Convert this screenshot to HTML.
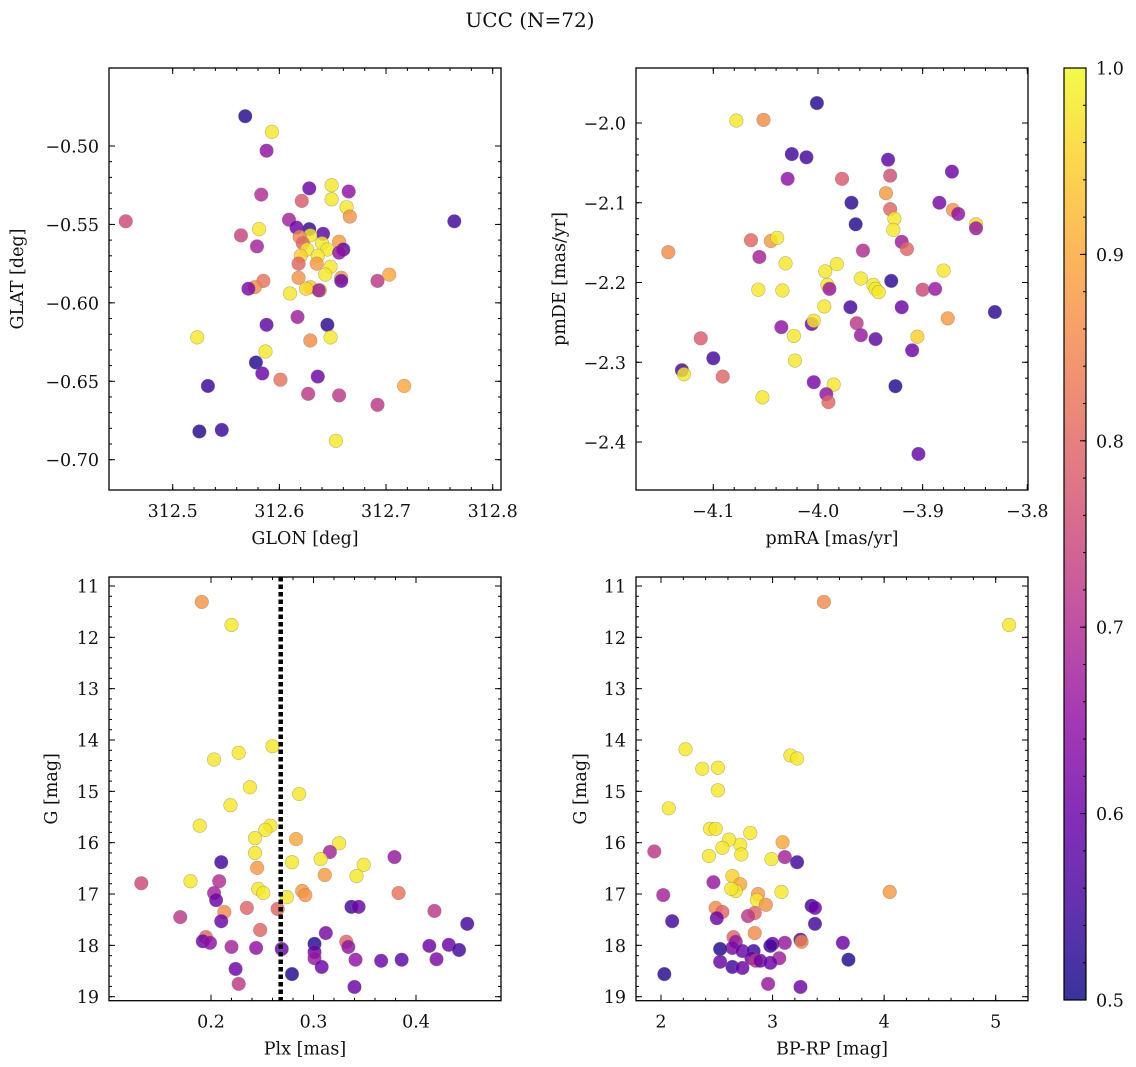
<!DOCTYPE html>
<html><head><meta charset="utf-8"><title>UCC (N=72)</title>
<style>
html,body{margin:0;padding:0;background:#fff;}
svg{display:block;font-family:"DejaVu Serif","Liberation Serif",serif;}
</style></head>
<body>
<svg id="fig" width="1136" height="1067" viewBox="0 0 1136 1067">
<text x="530" y="27" text-anchor="middle" font-size="20" fill="#111">UCC (N=72)</text>
</svg>
<script>
// ---- Panel 1: GLON vs GLAT ----
const p1X=[312.456,312.568,312.593,312.588,312.583,312.628,312.621,312.649,312.649,312.665,312.663,312.666,312.764,312.564,312.581,312.579,312.609,312.616,312.628,312.641,312.629,312.619,312.622,312.640,312.656,312.660,312.626,312.645,312.656,312.620,312.636,312.618,312.635,312.648,312.643,312.658,312.658,312.618,312.585,312.577,312.571,312.610,312.629,312.638,312.637,312.625,312.692,312.703,312.588,312.645,312.617,312.523,312.587,312.629,312.648,312.578,312.584,312.601,312.636,312.533,312.717,312.627,312.656,312.692,312.525,312.546,312.653];
const p1Y=[-0.548,-0.481,-0.491,-0.503,-0.531,-0.527,-0.535,-0.525,-0.534,-0.529,-0.539,-0.545,-0.548,-0.557,-0.553,-0.564,-0.547,-0.552,-0.553,-0.556,-0.557,-0.558,-0.562,-0.562,-0.561,-0.566,-0.566,-0.566,-0.568,-0.570,-0.570,-0.575,-0.575,-0.577,-0.582,-0.584,-0.586,-0.584,-0.586,-0.590,-0.591,-0.594,-0.590,-0.592,-0.592,-0.591,-0.586,-0.582,-0.614,-0.614,-0.609,-0.622,-0.631,-0.624,-0.622,-0.638,-0.645,-0.649,-0.647,-0.653,-0.653,-0.658,-0.659,-0.665,-0.682,-0.681,-0.688];
const p1C=[0.75,0.52,0.98,0.65,0.70,0.60,0.78,0.98,0.98,0.65,0.98,0.87,0.55,0.74,0.98,0.68,0.68,0.60,0.54,0.58,0.98,0.85,0.80,0.98,0.88,0.58,0.98,0.98,0.65,0.95,0.98,0.80,0.88,0.98,0.98,0.87,0.60,0.87,0.82,0.86,0.62,0.98,0.94,0.98,0.66,0.96,0.72,0.90,0.58,0.53,0.67,0.98,0.98,0.86,0.98,0.52,0.60,0.82,0.60,0.54,0.90,0.72,0.72,0.72,0.52,0.54,0.98];
const p1XTicks=[312.5,312.6,312.7,312.8];
const p1XTickLabels=["312.5","312.6","312.7","312.8"];
const p1YTicks=[-0.50,-0.55,-0.60,-0.65,-0.70];
const p1YTickLabels=["\u22120.50","\u22120.55","\u22120.60","\u22120.65","\u22120.70"];
// ---- Panel 2: pmRA vs pmDE ----
const p2X=[-4.001,-4.052,-4.078,-4.025,-4.011,-4.029,-3.977,-3.933,-3.931,-3.872,-3.968,-3.935,-3.884,-3.931,-3.871,-3.866,-3.927,-3.928,-3.964,-3.849,-3.849,-3.920,-3.915,-4.143,-4.064,-4.045,-4.039,-4.056,-4.031,-3.982,-3.957,-3.993,-3.880,-3.959,-3.947,-3.945,-3.942,-3.930,-3.991,-3.989,-4.057,-4.034,-3.900,-3.888,-3.831,-3.969,-3.994,-3.920,-3.876,-4.006,-4.004,-4.035,-3.963,-3.959,-3.945,-4.023,-4.112,-3.905,-3.910,-4.100,-4.022,-4.130,-4.128,-4.091,-4.004,-3.926,-3.985,-3.992,-3.990,-4.053,-3.904];
const p2Y=[-1.975,-1.996,-1.997,-2.039,-2.043,-2.070,-2.070,-2.046,-2.066,-2.061,-2.100,-2.088,-2.100,-2.108,-2.109,-2.114,-2.120,-2.134,-2.127,-2.127,-2.132,-2.149,-2.158,-2.162,-2.147,-2.148,-2.144,-2.168,-2.176,-2.177,-2.160,-2.186,-2.185,-2.195,-2.203,-2.208,-2.212,-2.198,-2.203,-2.208,-2.209,-2.210,-2.209,-2.208,-2.237,-2.231,-2.230,-2.231,-2.245,-2.252,-2.248,-2.256,-2.251,-2.266,-2.271,-2.267,-2.270,-2.268,-2.285,-2.295,-2.298,-2.310,-2.315,-2.318,-2.325,-2.330,-2.328,-2.340,-2.350,-2.344,-2.415];
const p2C=[0.52,0.86,0.98,0.55,0.55,0.65,0.78,0.58,0.76,0.60,0.53,0.88,0.62,0.80,0.87,0.65,0.98,0.98,0.52,0.96,0.66,0.67,0.80,0.86,0.80,0.88,0.98,0.68,0.98,0.98,0.70,0.98,0.98,0.98,0.98,0.98,0.98,0.53,0.98,0.66,0.98,0.98,0.75,0.66,0.53,0.55,0.98,0.60,0.88,0.60,0.98,0.65,0.72,0.66,0.58,0.98,0.78,0.95,0.60,0.55,0.98,0.56,0.98,0.80,0.62,0.52,0.98,0.65,0.80,0.98,0.60];
const p2XTicks=[-4.1,-4.0,-3.9,-3.8];
const p2XTickLabels=["\u22124.1","\u22124.0","\u22123.9","\u22123.8"];
const p2YTicks=[-2.0,-2.1,-2.2,-2.3,-2.4];
const p2YTickLabels=["\u22122.0","\u22122.1","\u22122.2","\u22122.3","\u22122.4"];
// ---- Panel 3: Plx vs G ----
const p3X=[0.191,0.220,0.203,0.227,0.260,0.238,0.286,0.219,0.189,0.258,0.253,0.243,0.283,0.325,0.243,0.316,0.379,0.210,0.307,0.279,0.349,0.245,0.311,0.342,0.208,0.180,0.132,0.246,0.251,0.289,0.292,0.274,0.203,0.205,0.383,0.265,0.235,0.213,0.337,0.344,0.418,0.170,0.210,0.450,0.248,0.312,0.195,0.192,0.199,0.332,0.301,0.220,0.244,0.269,0.334,0.413,0.432,0.442,0.301,0.301,0.420,0.341,0.366,0.386,0.308,0.224,0.279,0.227,0.340];
const p3Y=[11.31,11.76,14.38,14.25,14.12,14.92,15.05,15.27,15.67,15.67,15.75,15.91,15.93,16.01,16.20,16.18,16.28,16.38,16.32,16.38,16.43,16.49,16.63,16.65,16.75,16.75,16.79,16.90,16.98,16.94,17.02,17.06,16.98,17.12,16.98,17.29,17.27,17.35,17.25,17.25,17.33,17.45,17.53,17.58,17.70,17.76,17.84,17.92,17.95,17.93,17.97,18.03,18.05,18.07,18.03,18.01,17.99,18.09,18.13,18.25,18.27,18.28,18.30,18.28,18.42,18.46,18.56,18.75,18.81];
const p3C=[0.87,0.98,0.98,0.98,0.98,0.98,0.98,0.98,0.98,0.98,0.98,0.98,0.90,0.98,0.98,0.68,0.66,0.55,0.98,0.98,0.98,0.88,0.88,0.98,0.70,0.98,0.75,0.98,0.98,0.88,0.87,0.98,0.68,0.60,0.82,0.80,0.80,0.86,0.55,0.60,0.72,0.72,0.60,0.55,0.80,0.62,0.80,0.60,0.65,0.80,0.52,0.68,0.65,0.60,0.65,0.60,0.60,0.55,0.60,0.66,0.62,0.65,0.60,0.58,0.60,0.60,0.52,0.72,0.60];
const p3XTicks=[0.2,0.3,0.4];
const p3XTickLabels=["0.2","0.3","0.4"];
const gTicks=[11,12,13,14,15,16,17,18,19];
const gTickLabels=["11","12","13","14","15","16","17","18","19"];
const plxLine=[0.268];
// ---- Panel 4: BP-RP vs G ----
const p4X=[3.46,5.12,2.22,3.16,3.22,2.51,2.37,2.51,2.07,2.44,2.49,2.71,2.61,2.80,3.09,2.55,2.72,3.11,3.22,1.94,2.43,2.99,2.47,2.64,2.71,2.67,2.63,2.02,2.87,3.08,4.05,2.86,2.49,2.55,2.50,2.84,3.35,3.38,2.94,2.10,2.78,3.38,2.84,2.65,3.25,2.67,3.11,3.26,3.00,2.98,3.63,2.64,2.53,2.73,2.83,3.06,2.81,2.85,2.89,2.98,3.68,2.64,2.73,2.53,2.03,2.96,3.25];
const p4Y=[11.31,11.76,14.18,14.30,14.36,14.54,14.56,14.98,15.33,15.73,15.73,16.04,15.94,15.81,15.99,16.10,16.23,16.28,16.38,16.17,16.26,16.32,16.77,16.65,16.81,16.94,16.90,17.02,17.00,16.96,16.96,17.12,17.27,17.35,17.47,17.37,17.23,17.27,17.21,17.53,17.43,17.58,17.76,17.84,17.89,17.93,17.95,17.93,17.97,18.01,17.95,18.05,18.07,18.11,18.11,18.25,18.25,18.30,18.30,18.34,18.28,18.42,18.44,18.32,18.56,18.75,18.81];
const p4C=[0.86,0.98,0.98,0.98,0.98,0.98,0.98,0.98,0.98,0.98,0.98,0.98,0.98,0.98,0.90,0.98,0.98,0.68,0.55,0.72,0.98,0.98,0.66,0.95,0.90,0.98,0.98,0.68,0.88,0.98,0.88,0.98,0.86,0.80,0.60,0.80,0.55,0.60,0.87,0.55,0.72,0.55,0.86,0.80,0.55,0.66,0.66,0.85,0.60,0.55,0.60,0.62,0.52,0.60,0.55,0.67,0.60,0.72,0.60,0.60,0.52,0.55,0.60,0.60,0.52,0.66,0.60];
const p4XTicks=[2,3,4,5];
const p4XTickLabels=["2","3","4","5"];
// ---- Colorbar ----
const cbTicks=[0.5,0.6,0.7,0.8,0.9,1.0];
const cbTickLabels=["0.5","0.6","0.7","0.8","0.9","1.0"];

const NS="http://www.w3.org/2000/svg";
const svg=document.getElementById('fig');
const TFS=17.5, LFS=17.5;
function mk(tag,attrs,parent){const e=document.createElementNS(NS,tag);for(const k in attrs)e.setAttribute(k,attrs[k]);(parent||svg).appendChild(e);return e;}
const plasma=[[13,8,135],[65,4,157],[106,0,168],[143,13,164],[177,42,144],[204,71,120],[225,100,98],[242,132,75],[252,166,54],[252,206,37],[240,249,33]];
function cmap(c){let t=(c-0.5)/0.5;t=Math.max(0,Math.min(1,t));const f=t*10;const i=Math.min(9,Math.floor(f));const r=f-i;const a=plasma[i],b=plasma[i+1];return 'rgb('+a.map((v,k)=>Math.round(v+(b[k]-v)*r)).join(',')+')';}

function lin(d0,d1,r0,r1){return v=>r0+(v-d0)*(r1-r0)/(d1-d0);}

function panel(o){
  const g=mk('g',{});
  
  
  const {L,R,T,B}=o;
  const sx=lin(o.xd[0],o.xd[1],o.xr[0],o.xr[1]);
  const sy=lin(o.yd[0],o.yd[1],o.yr[0],o.yr[1]);
  const clip='clip-'+o.name;
  const cp=mk('clipPath',{id:clip},g);mk('rect',{x:L,y:T,width:R-L,height:B-T},cp);
  const pts=mk('g',{'clip-path':'url(#'+clip+')'},g);
  
  
  for(let i=0;i<o.x.length;i++){
    const c=mk('circle',{cx:sx(o.x[i]),cy:sy(o.y[i]),r:6.8,fill:cmap(o.c[i]),'fill-opacity':0.82,stroke:'#777','stroke-opacity':0.5,'stroke-width':0.6},pts);
    
    
  }
  if(o.vline){
    for(const v of o.vline){
      const ln=mk('line',{x1:sx(v),x2:sx(v),y1:T,y2:B,stroke:'#000','stroke-width':4.5,'stroke-dasharray':'4.5,3'},pts);
      
      
    }
  }
  const frame=mk('rect',{x:L,y:T,width:R-L,height:B-T,fill:'none',stroke:'#000','stroke-width':1.3},g);
  
  
  const tk=mk('g',{stroke:'#000','stroke-width':1},g);
  const xmn=Math.min(o.xd[0],o.xd[1]),xmx=Math.max(o.xd[0],o.xd[1]);
  for(let k=Math.ceil(xmn/o.xminor-1e-6);k*o.xminor<=xmx+1e-9;k++){const v=k*o.xminor,px=sx(v);if(px<L-0.5||px>R+0.5)continue;
    mk('line',{x1:px,x2:px,y1:B,y2:B-3},tk);mk('line',{x1:px,x2:px,y1:T,y2:T+3},tk);}
  const ymn=Math.min(o.yd[0],o.yd[1]),ymx=Math.max(o.yd[0],o.yd[1]);
  for(let k=Math.ceil(ymn/o.yminor-1e-6);k*o.yminor<=ymx+1e-9;k++){const v=k*o.yminor,py=sy(v);if(py<T-0.5||py>B+0.5)continue;
    mk('line',{x1:L,x2:L+3,y1:py,y2:py},tk);mk('line',{x1:R,x2:R-3,y1:py,y2:py},tk);}
  o.xt.forEach((v,i)=>{const px=sx(v);
    mk('line',{x1:px,x2:px,y1:B,y2:B-6},tk);mk('line',{x1:px,x2:px,y1:T,y2:T+6},tk);
    const t=mk('text',{x:px,y:B+27,'text-anchor':'middle','font-size':TFS,fill:'#111'},g);t.textContent=o.xtl[i];
    
    });
  o.yt.forEach((v,i)=>{const py=sy(v);
    mk('line',{x1:L,x2:L+6,y1:py,y2:py},tk);mk('line',{x1:R,x2:R-6,y1:py,y2:py},tk);
    const t=mk('text',{x:L-10,y:py+6.5,'text-anchor':'end','font-size':TFS,fill:'#111'},g);t.textContent=o.ytl[i];
    
    });
  const xl=mk('text',{x:(L+R)/2,y:B+54,'text-anchor':'middle','font-size':LFS,fill:'#111'},g);xl.textContent=o.xlabel;
  
  
  const yl=mk('text',{x:0,y:0,'text-anchor':'middle','font-size':LFS,fill:'#111',transform:'translate('+o.ylx+','+(T+B)/2+') rotate(-90)'},g);yl.textContent=o.ylabel;
  
  
}

panel({name:'glon-glat-panel',L:109,R:501,T:68,B:490,x:p1X,y:p1Y,c:p1C,
  xd:[312.5,312.8],xr:[172.7,492.7],yd:[-0.50,-0.70],yr:[146,459.7],
  xt:p1XTicks,xtl:p1XTickLabels,yt:p1YTicks,ytl:p1YTickLabels,xminor:0.02,yminor:0.01,
  xlabel:'GLON [deg]',ylabel:'GLAT [deg]',ylx:23});
panel({name:'pm-panel',L:636,R:1028,T:68,B:490,x:p2X,y:p2Y,c:p2C,
  xd:[-4.1,-3.8],xr:[713.3,1027.3],yd:[-2.0,-2.4],yr:[123,442],
  xt:p2XTicks,xtl:p2XTickLabels,yt:p2YTicks,ytl:p2YTickLabels,xminor:0.02,yminor:0.02,
  xlabel:'pmRA [mas/yr]',ylabel:'pmDE [mas/yr]',ylx:565});
panel({name:'plx-g-panel',L:109,R:501,T:577,B:1000.7,x:p3X,y:p3Y,c:p3C,
  xd:[0.2,0.4],xr:[211,416],yd:[11,19],yr:[586,996.7],
  xt:p3XTicks,xtl:p3XTickLabels,yt:gTicks,ytl:gTickLabels,xminor:0.02,yminor:0.2,
  xlabel:'Plx [mas]',ylabel:'G [mag]',ylx:57,vline:plxLine});
panel({name:'cmd-panel',L:636,R:1028,T:577,B:1000.7,x:p4X,y:p4Y,c:p4C,
  xd:[2,5],xr:[661,995.7],yd:[11,19],yr:[586,996.7],
  xt:p4XTicks,xtl:p4XTickLabels,yt:gTicks,ytl:gTickLabels,xminor:0.2,yminor:0.2,
  xlabel:'BP-RP [mag]',ylabel:'G [mag]',ylx:586});

(function(){
  const g=mk('g',{});
  
  
  const L=1064,R=1086,T=68,B=1000;
  const defs=mk('defs',{},g);
  const lg=mk('linearGradient',{id:'cbgrad',x1:0,y1:1,x2:0,y2:0},defs);
  for(let i=0;i<=20;i++){const c=0.5+i*0.025;mk('stop',{offset:(i/20),'stop-color':cmap(c)},lg);}
  mk('rect',{x:L,y:T,width:R-L,height:B-T,fill:'url(#cbgrad)','fill-opacity':0.82},g);
  mk('rect',{x:L,y:T,width:R-L,height:B-T,fill:'none',stroke:'#000','stroke-width':1.2},g);
  const s=lin(0.5,1.0,B,T);
  for(let k=25;k<=50;k++){const py=s(k/50);mk('line',{x1:R,x2:R-3,y1:py,y2:py,stroke:'#000','stroke-width':1},g);}
  cbTicks.forEach((v,i)=>{const py=s(v);mk('line',{x1:R,x2:R-6,y1:py,y2:py,stroke:'#000','stroke-width':1},g);
    const t=mk('text',{x:R+10,y:py+6.5,'font-size':TFS,fill:'#111'},g);t.textContent=cbTickLabels[i];
    
    });
})();
</script>
</body></html>
